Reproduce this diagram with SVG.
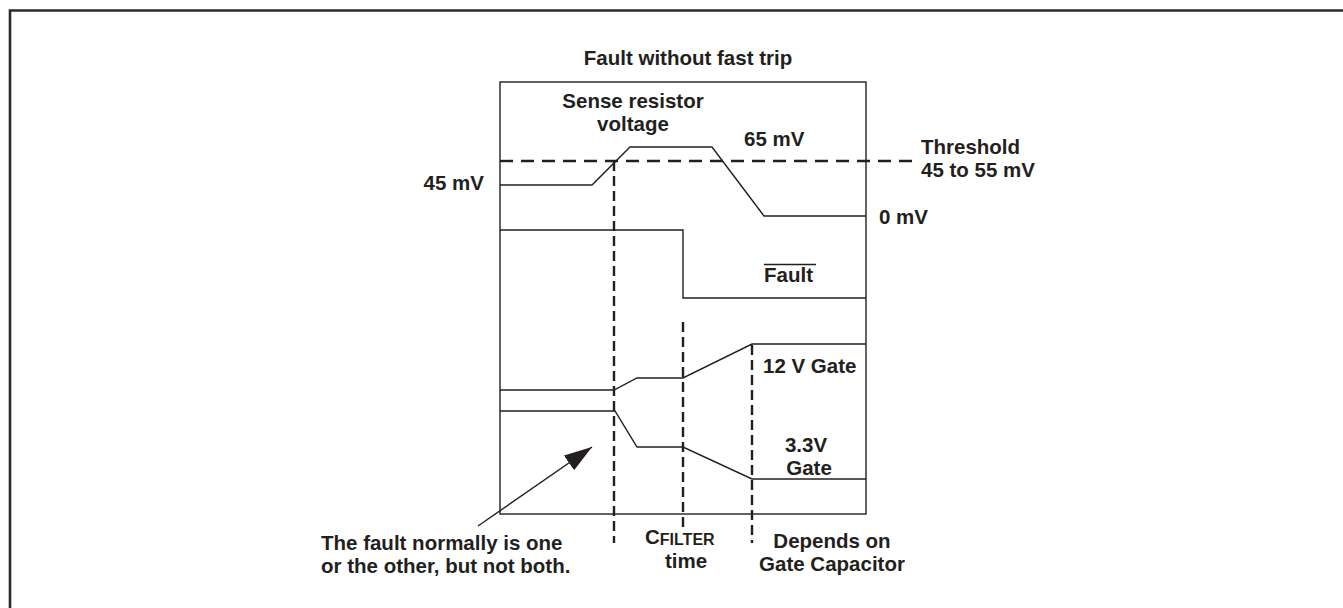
<svg xmlns="http://www.w3.org/2000/svg" width="1343" height="608" viewBox="0 0 1343 608">
<style>
  text { font-family: "Liberation Sans", Arial, Helvetica, sans-serif; font-weight: bold; font-size: 20.5px; fill: #231f20; }
  .trace { fill: none; stroke: #231f20; stroke-width: 1.4; stroke-linejoin: miter; }
  .vdash { fill: none; stroke: #231f20; stroke-width: 2.4; stroke-dasharray: 10 5; }
  .hdash { fill: none; stroke: #231f20; stroke-width: 2.4; stroke-dasharray: 13 8; }
  .mid { text-anchor: middle; }
</style>
<defs>
  <marker id="bigarrow" viewBox="0 0 28 20" refX="28" refY="10" markerWidth="28" markerHeight="20" markerUnits="userSpaceOnUse" orient="auto">
    <path d="M0,1 L28,10 L0,19 Z" fill="#231f20"/>
  </marker>
</defs>
<rect width="1343" height="608" fill="#ffffff"/>
<path d="M10,608 V10.5 H1343" fill="none" stroke="#2a2a2a" stroke-width="2.6"/>

<g id="title">
  <text x="688" y="65" class="mid">Fault without fast trip</text>
</g>

<g id="plot-frame">
  <rect x="500" y="82" width="366" height="432" fill="none" stroke="#231f20" stroke-width="1.4"/>
</g>

<g id="sense-voltage">
  <polyline class="trace" points="500,185 592,185 630,147 712,147 764,216 866,216"/>
  <text x="633" y="108" class="mid">Sense resistor</text>
  <text x="633" y="131" class="mid">voltage</text>
  <text x="744" y="146">65 mV</text>
  <text x="484" y="190" text-anchor="end">45 mV</text>
  <text x="879" y="224">0 mV</text>
</g>

<g id="threshold">
  <line class="hdash" x1="500" y1="161" x2="920" y2="161"/>
  <text x="921" y="154">Threshold</text>
  <text x="921" y="177">45 to 55 mV</text>
</g>

<g id="fault-signal">
  <polyline class="trace" points="500,230 683,230 683,298 866,298"/>
  <text x="764" y="282">Fault</text>
  <line x1="764" y1="264.5" x2="816" y2="264.5" stroke="#231f20" stroke-width="1.6"/>
</g>

<g id="gate-12v">
  <polyline class="trace" points="500,390 614,390 637,378 683,378 752,344 866,344"/>
  <text x="763" y="373">12 V Gate</text>
</g>

<g id="gate-3v3">
  <polyline class="trace" points="500,411 615,411 637,447 683,447 752,479 866,479"/>
  <text x="806" y="452" class="mid">3.3V</text>
  <text x="809" y="475" class="mid">Gate</text>
</g>

<g id="connectors">
  <line class="vdash" x1="614" y1="161" x2="614" y2="543"/>
  <line class="vdash" x1="683" y1="322" x2="683" y2="528"/>
  <line class="vdash" x1="752" y1="345" x2="752" y2="543"/>
  <line x1="478" y1="526" x2="592" y2="447" stroke="#231f20" stroke-width="1.4" marker-end="url(#bigarrow)"/>
</g>

<g id="timing-labels">
  <text x="645" y="544">C<tspan font-size="16" dy="1">FILTER</tspan></text>
  <text x="686" y="568" class="mid">time</text>
  <text x="832" y="548" class="mid">Depends on</text>
  <text x="832" y="571" class="mid">Gate Capacitor</text>
</g>

<g id="note">
  <text x="321" y="550">The fault normally is one</text>
  <text x="321" y="573">or the other, but not both.</text>
</g>
</svg>
